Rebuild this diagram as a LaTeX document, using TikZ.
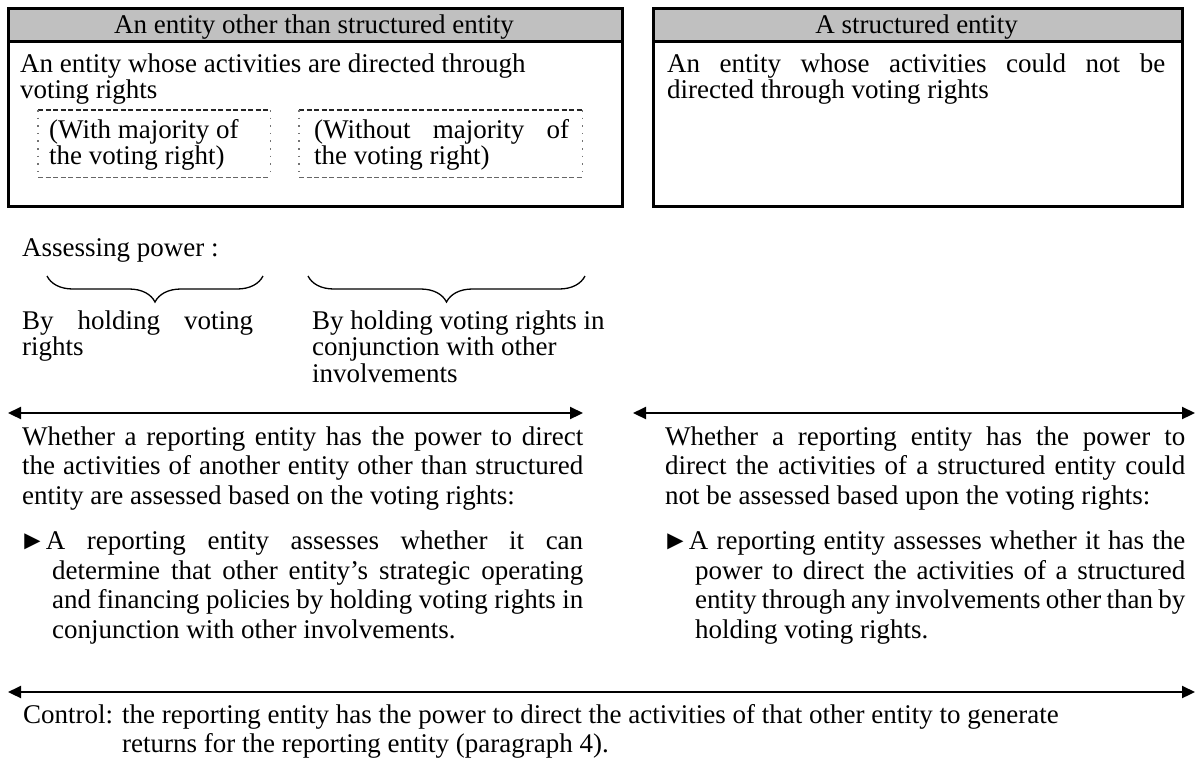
\documentclass[tikz,border=0pt]{standalone}
\usepackage{fontspec}
\setmainfont{Liberation Serif}
\usetikzlibrary{arrows.meta,decorations.pathreplacing}
\definecolor{headgray}{HTML}{C0C0C0}
\newcommand{\bodysize}{\fontsize{27pt}{29.5pt}\selectfont}
\newcommand{\cellsize}{\fontsize{27pt}{26.5pt}\selectfont}
% justified and ragged text blocks; the node baseline is the first line
\newcommand{\jblock}[3][\bodysize]{\vtop{\hsize=#2\parindent=0pt\hbadness=10000#1 #3\par}}
\newcommand{\rblock}[3][\bodysize]{\vtop{\hsize=#2\parindent=0pt\hbadness=10000\raggedright#1 #3\par}}
\newcommand{\pointer}{\hspace*{-3pt}►}

\begin{document}
\begin{tikzpicture}[x=1pt,y=-1pt,
  frame/.style={draw,line width=2.6pt,inner sep=0pt,anchor=north west},
  headband/.style={fill=headgray,inner sep=0pt,anchor=north west},
  txt/.style={inner sep=0pt,anchor=base west},
  headtxt/.style={inner sep=0pt,anchor=base,font=\bodysize},
  area/.style={inner sep=0pt,anchor=north west},
  dtop/.style={line width=1.4pt,black!85,dash pattern=on 5pt off 2.5pt},
  dbot/.style={line width=1.4pt,black!60,dash pattern=on 5pt off 2.5pt},
  dside/.style={line width=1.6pt,black!55,dash pattern=on 1.6pt off 6pt},
  bracestyle/.style={line width=1.3pt,decorate,decoration={brace,mirror,amplitude=26pt}},
  dblarrow/.style={line width=2.2pt,{Triangle[length=13pt,width=12pt]}-{Triangle[length=13pt,width=12pt]}}
]
\useasboundingbox (0,0) rectangle (1196,764);

% --- left framed box: entity other than structured entity
\node[headband,minimum width=614pt,minimum height=34pt] (lefthead) at (7,7) {};
\node[frame,minimum width=614pt,minimum height=198pt] (leftbox) at (7,7) {};
\draw[line width=2.6pt] (lefthead.south west) -- (lefthead.south east);
\node[headtxt] (lefttitle) at (314,33) {An entity other than structured entity};
\node[txt] (leftdesc) at (20,72) {\rblock[\cellsize]{590pt}{An entity whose activities are directed through\\voting rights}};

% dotted sub-boxes
\node[area,minimum width=232pt,minimum height=67pt] (dboxa) at (38,110) {};
\node[area,minimum width=283pt,minimum height=67pt] (dboxb) at (299,110) {};
\foreach \b in {dboxa,dboxb}{
  \draw[dtop] (\b.north west) -- (\b.north east);
  \draw[dbot] (\b.south west) -- (\b.south east);
  \draw[dside] (\b.north west) -- (\b.south west);
  \draw[dside] (\b.north east) -- (\b.south east);
}
\node[txt] (dtexta) at (49,138) {\rblock[\cellsize]{215pt}{(With majority of\\the voting right)}};
\node[txt] (dtextb) at (314,138) {\jblock[\cellsize]{255pt}{(Without majority of\linebreak the voting right)}};

% --- right framed box: structured entity
\node[headband,minimum width=529pt,minimum height=34pt] (righthead) at (652,7) {};
\node[frame,minimum width=529pt,minimum height=198pt] (rightbox) at (652,7) {};
\draw[line width=2.6pt] (righthead.south west) -- (righthead.south east);
\node[headtxt] (righttitle) at (916.5,33) {A structured entity};
\node[txt] (rightdesc) at (667,72) {\jblock[\cellsize]{498pt}{An entity whose activities could not be\linebreak directed through voting rights}};

% --- assessing power
\node[txt] (assess) at (22,256) {\rblock{400pt}{Assessing power :}};
\coordinate (bral) at (47,276);
\coordinate (brar) at (263,276);
\coordinate (brbl) at (308,276);
\coordinate (brbr) at (585,276);
\draw[bracestyle] (bral) -- (brar);
\draw[bracestyle] (brbl) -- (brbr);
\node[txt] (waya) at (22,329) {\jblock[\cellsize]{231pt}{By holding voting\linebreak rights}};
\node[txt] (wayb) at (312,329) {\rblock[\cellsize]{320pt}{By holding voting rights in\\conjunction with other\\involvements}};

% --- double arrows spanning each column
\coordinate (arla) at (8,413);
\coordinate (arlb) at (583,413);
\coordinate (arra) at (633,413);
\coordinate (arrb) at (1195,413);
\draw[dblarrow] (arla) -- (arlb);
\draw[dblarrow] (arra) -- (arrb);

% --- left column explanation
\node[txt] (leftwhy) at (22,445) {\jblock{561pt}{Whether a reporting entity has the power to direct\linebreak the activities of another entity other than structured\linebreak entity are assessed based on the voting rights:}};
\node[txt] (leftpoint) at (22,549.5) {\jblock{561pt}{\hangindent=30pt\hangafter=1 \pointer A reporting entity assesses whether it can\linebreak determine that other entity's strategic operating\linebreak and financing policies by holding voting rights in\linebreak conjunction with other involvements.}};

% --- right column explanation
\node[txt] (rightwhy) at (665,445) {\jblock{520pt}{Whether a reporting entity has the power to\linebreak direct the activities of a structured entity could\linebreak not be assessed based upon the voting rights:}};
\node[txt] (rightpoint) at (665,549.5) {\jblock{520pt}{\hangindent=30pt\hangafter=1 \pointer A reporting entity assesses whether it has the\linebreak power to direct the activities of a structured\linebreak entity through any involvements other than by\linebreak holding voting rights.}};

% --- control definition
\coordinate (arca) at (8,692);
\coordinate (arcb) at (1195,692);
\draw[dblarrow] (arca) -- (arcb);
\node[txt] (control) at (23,723) {\rblock{1170pt}{\hangindent=99pt\hangafter=1 Control: the reporting entity has the power to direct the activities of that other entity to generate\linebreak returns for the reporting entity (paragraph 4).}};
\end{tikzpicture}
\end{document}
